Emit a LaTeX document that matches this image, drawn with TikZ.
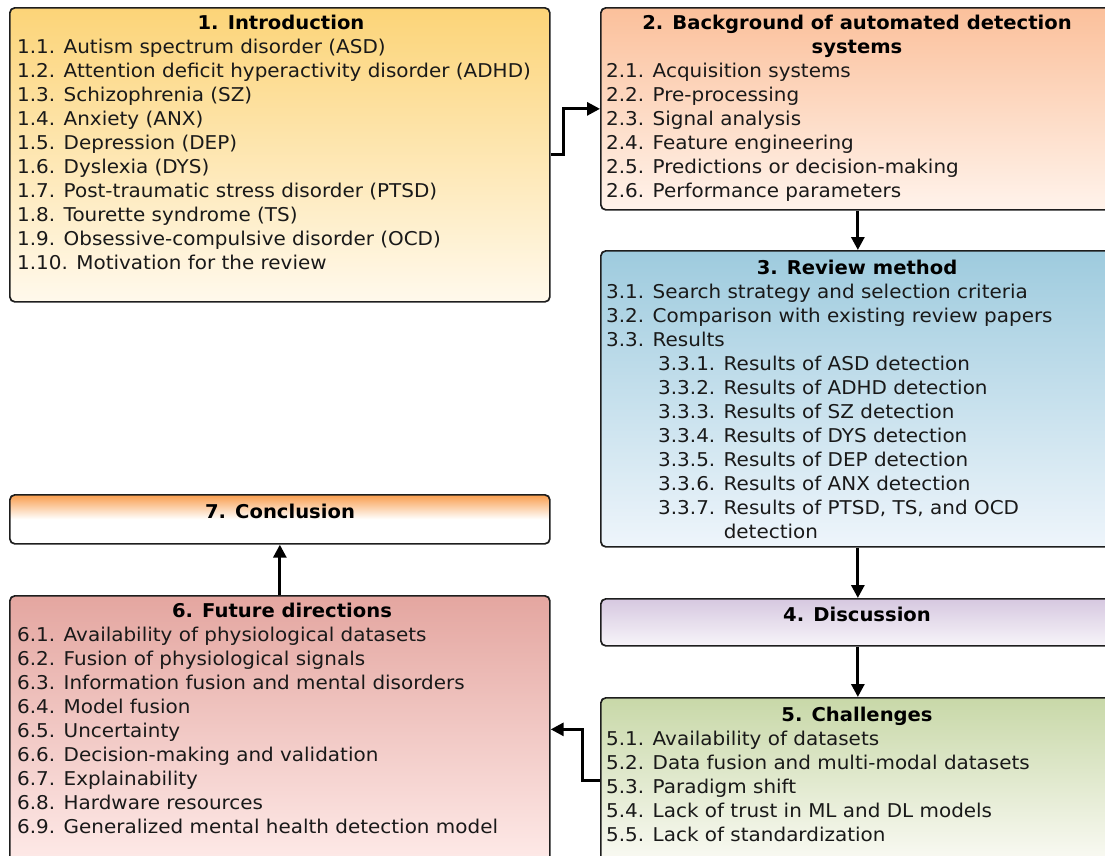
\documentclass[tikz,border=0pt]{standalone}
\usepackage{fontspec}
\setmainfont[FakeStretch=1.05]{DejaVu Sans}
\newfontfamily\headfont[FakeStretch=1.03]{DejaVu Sans}
\usetikzlibrary{arrows.meta}

\definecolor{introTop}{RGB}{252,212,120}
\definecolor{introBot}{RGB}{255,249,236}
\definecolor{backTop}{RGB}{251,192,155}
\definecolor{backBot}{RGB}{255,243,235}
\definecolor{revTop}{RGB}{158,203,222}
\definecolor{revBot}{RGB}{238,245,251}
\definecolor{discTop}{RGB}{214,200,224}
\definecolor{discBot}{RGB}{247,244,249}
\definecolor{chalTop}{RGB}{200,216,168}
\definecolor{chalBot}{RGB}{250,250,244}
\definecolor{futTop}{RGB}{228,166,160}
\definecolor{futBot}{RGB}{254,234,232}
\definecolor{concTop}{RGB}{249,158,78}
\definecolor{edge}{RGB}{30,30,30}

\tikzset{
  box/.style={draw=edge, line width=1.7pt, rounded corners=5pt, inner sep=0pt, anchor=north west},
  ttl/.style={font=\headfont\fontsize{19}{24}\bfseries\selectfont, anchor=base, inner sep=0pt},
  item/.style={font=\fontsize{19}{24}\selectfont, anchor=base west, inner sep=0pt, text=black!90},
  conn/.style={line width=3pt, -{Triangle[length=13pt,width=13pt]}},
}

\begin{document}
\begin{tikzpicture}[x=1pt,y=-1pt]
\useasboundingbox (0,0) rectangle (1105,855);
\clip (0,0) rectangle (1105,855);

% section boxes
\node[box, minimum width=540pt, minimum height=294pt, top color=introTop, bottom color=introBot] (b1) at (9,7) {};
\node[box, minimum width=514pt, minimum height=202pt, top color=backTop, bottom color=backBot] (b2) at (600,7) {};
\node[box, minimum width=514pt, minimum height=296pt, top color=revTop, bottom color=revBot] (b3) at (600,250) {};
\node[box, minimum width=514pt, minimum height=47pt, top color=discTop, bottom color=discBot] (b4) at (600,598) {};
\node[box, minimum width=514pt, minimum height=165pt, top color=chalTop, bottom color=chalBot] (b5) at (600,697) {};
\node[box, minimum width=540pt, minimum height=267pt, top color=futTop, bottom color=futBot] (b6) at (9,595) {};
\node[box, minimum width=540pt, minimum height=49pt, top color=concTop, bottom color=white, middle color=white] (b7) at (9,494) {};

% 1. Introduction
\node[ttl] (t1) at (281,29) {1. Introduction};
\foreach \t [count=\i from 0] in {
  1.1. Autism spectrum disorder (ASD),
  1.2. Attention deficit hyperactivity disorder (ADHD),
  1.3. Schizophrenia (SZ),
  1.4. Anxiety (ANX),
  1.5. Depression (DEP),
  1.6. Dyslexia (DYS),
  1.7. Post-traumatic stress disorder (PTSD),
  1.8. Tourette syndrome (TS),
  1.9. Obsessive-compulsive disorder (OCD),
  1.10. Motivation for the review}
  \node[item] (i1-\i) at (17,{53+24*\i}) {\t};

% 2. Background
\node[ttl] (t2a) at (857,29) {2. Background of automated detection};
\node[ttl] (t2b) at (857,53) {systems};
\foreach \t [count=\i from 0] in {
  2.1. Acquisition systems,
  2.2. Pre-processing,
  2.3. Signal analysis,
  2.4. Feature engineering,
  2.5. Predictions or decision-making,
  2.6. Performance parameters}
  \node[item] (i2-\i) at (606,{77+24*\i}) {\t};

% 3. Review method
\node[ttl] (t3) at (857,274) {3. Review method};
\foreach \t [count=\i from 0] in {
  3.1. Search strategy and selection criteria,
  3.2. Comparison with existing review papers,
  3.3. Results}
  \node[item] (i3-\i) at (606,{298+24*\i}) {\t};
\foreach \t [count=\i from 0] in {
  3.3.1. Results of ASD detection,
  3.3.2. Results of ADHD detection,
  3.3.3. Results of SZ detection,
  3.3.4. Results of DYS detection,
  3.3.5. Results of DEP detection,
  3.3.6. Results of ANX detection,
  {3.3.7. Results of PTSD, TS, and OCD},
  {\phantom{3.3.7. }detection}}
  \node[item] (s3-\i) at (658,{370+24*\i}) {\t};

% 4. Discussion
\node[ttl] (t4) at (857,621) {4. Discussion};

% 5. Challenges
\node[ttl] (t5) at (857,721) {5. Challenges};
\foreach \t [count=\i from 0] in {
  5.1. Availability of datasets,
  5.2. Data fusion and multi-modal datasets,
  5.3. Paradigm shift,
  5.4. Lack of trust in ML and DL models,
  5.5. Lack of standardization}
  \node[item] (i5-\i) at (606,{745+24*\i}) {\t};

% 6. Future directions
\node[ttl] (t6) at (282,617) {6. Future directions};
\foreach \t [count=\i from 0] in {
  6.1. Availability of physiological datasets,
  6.2. Fusion of physiological signals,
  6.3. Information fusion and mental disorders,
  6.4. Model fusion,
  6.5. Uncertainty,
  6.6. Decision-making and validation,
  6.7. Explainability,
  6.8. Hardware resources,
  6.9. Generalized mental health detection model}
  \node[item] (i6-\i) at (17,{641+24*\i}) {\t};

% 7. Conclusion
\node[ttl] (t7) at (280,518) {7. Conclusion};

% connectors
\draw[conn] (b1.east) -- ++(13,0) |- (b2.west);
\draw[conn] (b2.south) -- (b3.north);
\draw[conn] (b3.south) -- (b4.north);
\draw[conn] (b4.south) -- (b5.north);
\draw[conn] (b5.west) -- ++(-18,0) |- (b6.east);
\draw[conn] (b6.north) -- (b7.south);
\end{tikzpicture}
\end{document}
